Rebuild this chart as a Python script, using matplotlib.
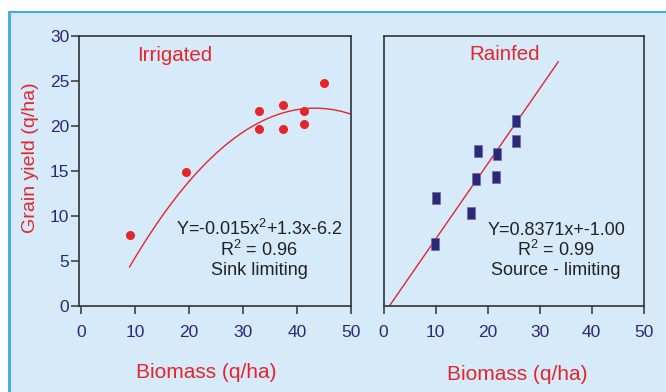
import numpy as np
import matplotlib
matplotlib.use("Agg")
import matplotlib.pyplot as plt
from matplotlib.patches import Rectangle
from matplotlib.lines import Line2D

plt.rcParams['font.family'] = ['Liberation Sans', 'DejaVu Sans']
plt.rcParams['mathtext.fontset'] = 'custom'
plt.rcParams['mathtext.rm'] = 'Liberation Sans'
plt.rcParams['mathtext.it'] = 'Liberation Sans'

# Irrigated plots: biomass vs grain yield (q/ha)
irr_biomass = [9, 19.5, 33, 33, 37.5, 37.5, 41.3, 41.3, 45]
irr_yield = [7.9, 14.9, 21.7, 19.7, 22.3, 19.7, 21.7, 20.2, 24.8]
irr_coef = [-0.015, 1.3, -6.2]          # quadratic fit a, b, c
irr_r2 = 0.96

# Rainfed plots
rain_biomass = [9.9, 10.0, 16.8, 17.8, 18.1, 21.6, 21.8, 25.4, 25.5]
rain_yield = [6.8, 12.0, 10.3, 14.1, 17.2, 14.3, 16.9, 20.5, 18.3]
rain_coef = [0.8371, -1.00]             # linear fit slope, intercept
rain_r2 = 0.99

x_ticks = [0, 10, 20, 30, 40, 50]
y_ticks = [0, 5, 10, 15, 20, 25, 30]

RED = '#e3262a'
NAVY = '#2c2878'
BG = '#d6eaf9'
TXT = '#222222'

W, H = 666, 392
fig = plt.figure(figsize=(W / 100, H / 100), dpi=100)
fig.patch.set_facecolor('white')

# panel background with blue frame on top and left
fig.patches.append(Rectangle((9 / W, 0), 1 - 9 / W, 1 - 12 / H,
                             transform=fig.transFigure, facecolor=BG,
                             edgecolor='none', zorder=-10))
fig.lines.append(Line2D([9 / W, 1], [1 - 12 / H, 1 - 12 / H],
                        transform=fig.transFigure, color='#1b9be0', lw=1.2,
                        zorder=-5))
fig.lines.append(Line2D([9 / W, 9 / W], [0, 1 - 12 / H],
                        transform=fig.transFigure, color='#4aaee6', lw=2.2,
                        zorder=-5))

bottom = 1 - 305.5 / H
height = (305.5 - 36) / H
ax1 = fig.add_axes([79 / W, bottom, (351 - 79) / W, height])
ax2 = fig.add_axes([383.5 / W, bottom, (643.5 - 383.5) / W, height])

for ax in (ax1, ax2):
    ax.set_facecolor(BG)
    ax.set_ylim(0, 30)
    ax.set_xticks(x_ticks)
    for s in ax.spines.values():
        s.set_color('#333333')
        s.set_linewidth(1.2)
    ax.tick_params(axis='x', direction='out', length=6, width=1.1,
                   color='#333333', labelcolor=NAVY, labelsize=12.5, pad=8)

ax1.set_xlim(-0.35, 50)
ax2.set_xlim(0, 50)

ax1.set_yticks(y_ticks)
ax1.tick_params(axis='y', direction='out', length=6, width=1.1,
                color='#333333', labelcolor=NAVY, labelsize=12.5, pad=1)
ax2.set_yticks([])

# Irrigated panel
ax1.plot(irr_biomass, irr_yield, 'o', color=RED, markersize=6.5,
         markeredgewidth=0, zorder=3)
xq = np.linspace(9, 50.5, 200)
a, b, c = irr_coef
ax1.plot(xq, a * xq ** 2 + b * xq + c, color=RED, lw=1.0, zorder=2)
ax1.text(17.3, 27.8, 'Irrigated', color=RED, fontsize=14.8,
         ha='center', va='center')
ax1.text(33, 8.5, r'Y=-0.015x$^{2}$+1.3x-6.2', color=TXT, fontsize=13,
         ha='center', va='center')
ax1.text(33, 6.2, r'R$^{2}$ = %.2f' % irr_r2, color=TXT, fontsize=13,
         ha='center', va='center')
ax1.text(33, 3.9, 'Sink limiting', color=TXT, fontsize=13,
         ha='center', va='center')

# Rainfed panel
rect = [(-0.32, -0.5), (0.32, -0.5), (0.32, 0.5), (-0.32, 0.5), (-0.32, -0.5)]
ax2.plot(rain_biomass, rain_yield, linestyle='none', marker=rect,
         color=NAVY, markersize=8.2, markeredgecolor='#6f6aa8',
         markeredgewidth=0.5, zorder=3)
xl = np.linspace(0, 33.6, 50)
m, k = rain_coef
ax2.plot(xl, m * xl + k, color=RED, lw=1.0, zorder=2)
ax2.text(23.2, 27.9, 'Rainfed', color=RED, fontsize=14.8,
         ha='center', va='center')
ax2.text(33.2, 8.4, 'Y=%.4fx+%.2f' % (m, k), color=TXT, fontsize=13,
         ha='center', va='center')
ax2.text(33.2, 6.2, r'R$^{2}$ = %.2f' % rain_r2, color=TXT, fontsize=13,
         ha='center', va='center')
ax2.text(33.2, 3.9, 'Source - limiting', color=TXT, fontsize=13,
         ha='center', va='center')

# axis titles
fig.text(206 / W, 1 - 373 / H, 'Biomass (q/ha)', color=RED, fontsize=15,
         ha='center', va='center')
fig.text(517 / W, 1 - 374 / H, 'Biomass (q/ha)', color=RED, fontsize=15,
         ha='center', va='center')
fig.text(31 / W, 1 - 158 / H, 'Grain yield (q/ha)', color=RED, fontsize=14,
         ha='center', va='center', rotation=90)

fig.savefig('out.png', dpi=100)
